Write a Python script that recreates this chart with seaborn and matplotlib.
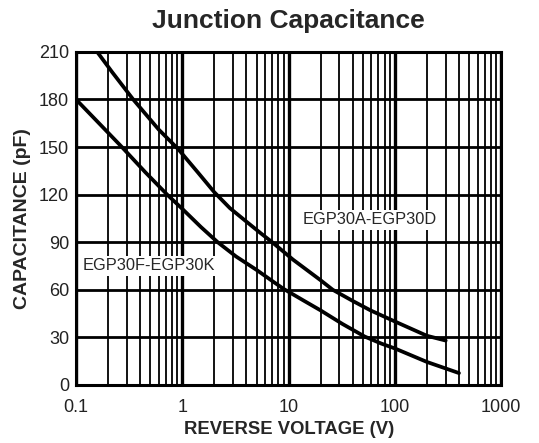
import matplotlib
matplotlib.use("Agg")
import matplotlib.pyplot as plt
import seaborn as sns
import pandas as pd
from matplotlib.ticker import FixedLocator, LogLocator, NullFormatter

# values
volt_ad = [0.158, 0.22, 0.345, 0.6, 0.92, 1.4, 2, 2.8, 4, 5.5, 7, 11, 20, 26, 40, 59, 100, 200, 300]
cap_ad = [210, 197, 180, 161, 148.5, 134, 121.5, 111.5, 103, 95.5, 90, 79, 66, 60, 53, 47, 40, 31, 28]

volt_fk = [0.1, 0.17, 0.27, 0.45, 0.72, 1, 1.5, 2.15, 3.2, 5, 7.2, 9, 14, 20, 32, 52, 75, 100, 200, 400]
cap_fk = [180, 164, 150, 134, 120, 111, 99.5, 90, 81, 72.5, 65, 60.5, 53, 47, 38.5, 30.5, 26, 23, 14.5, 7.5]

x_ticks = [0.1, 1, 10, 100, 1000]
x_labels = ["0.1", "1", "10", "100", "1000"]
y_ticks = [0, 30, 60, 90, 120, 150, 180, 210]

df = pd.concat([
    pd.DataFrame({"voltage": volt_ad, "cap": cap_ad, "part": "EGP30A-EGP30D"}),
    pd.DataFrame({"voltage": volt_fk, "cap": cap_fk, "part": "EGP30F-EGP30K"}),
])

sns.set_style("white")
plt.rcParams["font.family"] = ["Liberation Sans", "DejaVu Sans"]

fig = plt.figure(figsize=(5.39, 4.43), dpi=100)
ax = fig.add_axes([0.141, 0.131, 0.789, 0.752])

sns.lineplot(data=df, x="voltage", y="cap", hue="part", palette=["black", "black"],
             linewidth=2.7, legend=False, ax=ax, zorder=5, sort=False)

ax.set_xscale("log")
ax.set_xlim(0.1, 1000)
ax.set_ylim(0, 210)

ax.xaxis.set_major_locator(FixedLocator(x_ticks))
ax.set_xticklabels(x_labels)
ax.xaxis.set_minor_locator(LogLocator(base=10, subs=range(2, 10)))
ax.xaxis.set_minor_formatter(NullFormatter())
ax.set_yticks(y_ticks)

ax.grid(True, which="major", axis="x", color="black", linewidth=2.4)
ax.grid(True, which="minor", axis="x", color="black", linewidth=1.3)
ax.grid(True, which="major", axis="y", color="black", linewidth=2.0)
ax.set_axisbelow(True)

for s in ax.spines.values():
    s.set_color("black")
    s.set_linewidth(2.2)

ax.tick_params(which="both", length=0, labelsize=13, colors="#222222")
ax.tick_params(axis="x", pad=10)
ax.tick_params(axis="y", pad=5)

ax.set_xlabel("REVERSE VOLTAGE (V)", fontsize=13.3, fontweight="bold", labelpad=4)
ax.set_ylabel("CAPACITANCE (pF)", fontsize=14, fontweight="bold", labelpad=6)
ax.set_title("Junction Capacitance", fontsize=19, fontweight="bold", pad=17)

box = dict(facecolor="white", edgecolor="none", pad=2)
ax.text(13.5, 104, "EGP30A-EGP30D", fontsize=11.8, va="center", ha="left", bbox=box, zorder=6)
ax.text(0.116, 75, "EGP30F-EGP30K", fontsize=11.8, va="center", ha="left", bbox=box, zorder=6)

fig.savefig("out.png", dpi=100)
